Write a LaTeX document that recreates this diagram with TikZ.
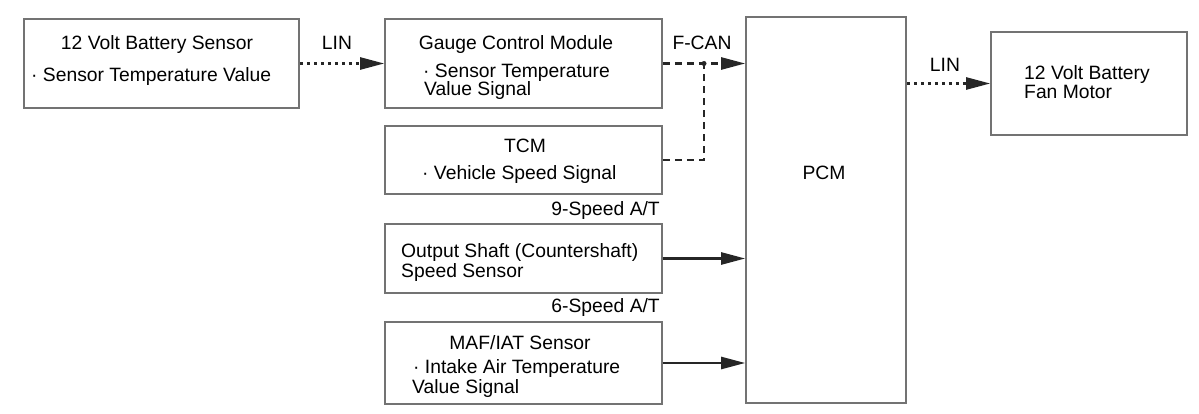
\documentclass[tikz,border=0pt]{standalone}
\usepackage{fontspec}
\setmainfont{Liberation Sans}
\usetikzlibrary{arrows.meta}

\begin{document}
\begin{tikzpicture}[x=1pt, y=-1pt,
    font=\fontsize{19.3}{21}\selectfont,
    unitbox/.style={draw=black!55, line width=1.6pt, rectangle, inner sep=0pt},
    txt/.style={inner sep=0pt},
    sigline/.style={draw=black!85, line width=2.4pt, -{Triangle[length=24pt,width=12pt]}},
    linbus/.style={sigline, dash pattern=on 3pt off 4pt},
    canbus/.style={draw=black!85, line width=2.4pt, dash pattern=on 7pt off 5pt}]
    % Fix the size of the picture
    \useasboundingbox (0,0) rectangle (1199,414);

    % Draw the boxes for the modules and sensors
    \node[unitbox, minimum width=275pt, minimum height=89pt] (battsensor) at (161.5,63.5) {};
    \node[unitbox, minimum width=277pt, minimum height=89pt] (gcm) at (523.5,63.5) {};
    \node[unitbox, minimum width=277pt, minimum height=68pt] (tcm) at (523.5,160) {};
    \node[unitbox, minimum width=277pt, minimum height=69pt] (oss) at (523.5,258.5) {};
    \node[unitbox, minimum width=277pt, minimum height=82pt] (maf) at (523.5,363) {};
    \node[unitbox, minimum width=160pt, minimum height=386pt] (pcm) at (826,210) {};
    \node[unitbox, minimum width=196pt, minimum height=103pt] (fan) at (1089,83.5) {};

    % Add the texts inside the boxes
    \node[txt, anchor=base] (battsensorT) at (157,50) {12 Volt Battery Sensor};
    \node[txt, anchor=base west] (battsensorS) at (31,82) {· Sensor Temperature Value};
    \node[txt, anchor=base] (gcmT) at (516,50) {Gauge Control Module};
    \node[txt, anchor=base west] (gcmS) at (423,78) {· Sensor Temperature};
    \node[txt, anchor=base west] (gcmV) at (424,96) {Value Signal};
    \node[txt, anchor=base] (tcmT) at (525,153) {TCM};
    \node[txt, anchor=base west] (tcmS) at (422,180) {· Vehicle Speed Signal};
    \node[txt, anchor=base west] (ossA) at (401,257) {Output Shaft (Countershaft)};
    \node[txt, anchor=base west] (ossB) at (401,277) {Speed Sensor};
    \node[txt, anchor=base] (mafT) at (520,349) {MAF/IAT Sensor};
    \node[txt, anchor=base west] (mafS) at (413,373) {· Intake Air Temperature};
    \node[txt, anchor=base west] (mafV) at (412,393) {Value Signal};
    \node[txt, anchor=base] (pcmT) at (824,180) {PCM};
    \node[txt, anchor=base west] (fanA) at (1024,80) {12 Volt Battery};
    \node[txt, anchor=base west] (fanB) at (1024,99) {Fan Motor};

    % Transmission notes
    \node[txt, anchor=base east] (at9) at (660,215) {9-Speed A/T};
    \node[txt, anchor=base east] (at6) at (660,312) {6-Speed A/T};

    % Bus labels
    \node[txt, anchor=base] (linA) at (337,50) {LIN};
    \node[txt, anchor=base] (fcan) at (702,50) {F-CAN};
    \node[txt, anchor=base] (linB) at (945,72) {LIN};

    % Draw the connections
    \coordinate (fcanjoin) at (704,63.5);
    \draw[linbus] (battsensor.east) -- (gcm.west);
    \draw[canbus, -{Triangle[length=24pt,width=12pt]}] (gcm.east) -- (gcm.east -| pcm.west);
    \draw[canbus] (tcm.east) -- (tcm.east -| fcanjoin) -- (fcanjoin);
    \fill[black!85] (fcanjoin) circle (2.5pt);
    \draw[sigline] (oss.east) -- (oss.east -| pcm.west);
    \draw[sigline] (maf.east) -- (maf.east -| pcm.west);
    \draw[linbus] (fan.west -| pcm.east) -- (fan.west);
\end{tikzpicture}
\end{document}
